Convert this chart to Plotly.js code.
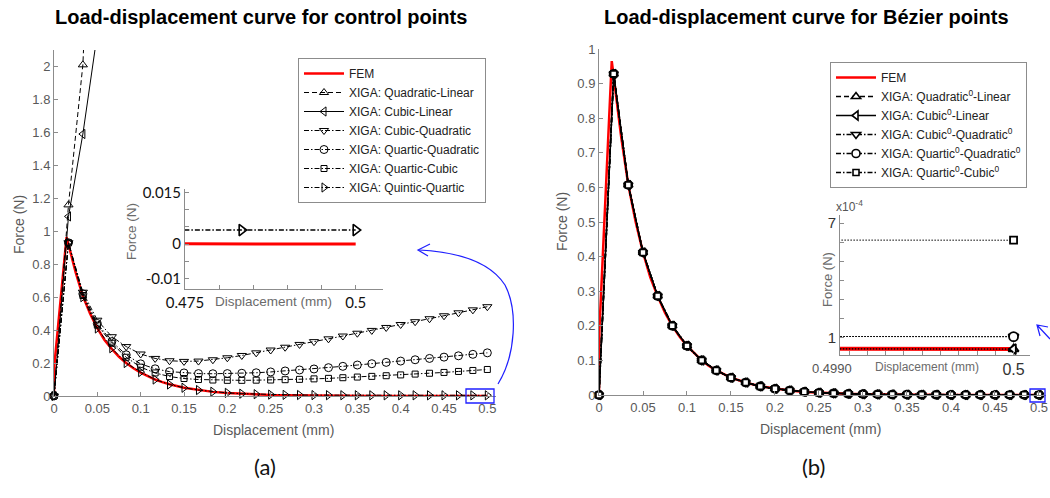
<!DOCTYPE html>
<html><head><meta charset="utf-8">
<script src="https://cdn.plot.ly/plotly-3.0.1.min.js"></script>
<style>html,body{margin:0;padding:0;background:#fff;}#chart{width:1050px;height:498px;}</style>
</head><body><div id="chart"></div><script>
// ---------------- data ----------------
const dispX = [0,0.0167,0.0333,0.05,0.0667,0.0833,0.1,0.1167,0.1333,0.15,0.1667,0.1833,0.2,0.2167,0.2333,0.25,0.2667,0.2833,0.3,0.3167,0.3333,0.35,0.3667,0.3833,0.4,0.4167,0.4333,0.45,0.4667,0.4833,0.5];
const femX = [0,0.0005,0.0145,0.025,0.0333,0.0417,0.05,0.0583,0.0667,0.075,0.0833,0.0917,0.1,0.1083,0.1167,0.125,0.1333,0.15,0.1667,0.1833,0.2,0.2167,0.2333,0.25,0.2667,0.2833,0.3,0.3167,0.3333,0.35,0.3667,0.3833,0.4,0.4167,0.4333,0.45,0.4667,0.4833,0.5];
const femY = [0,0.19,0.965,0.75,0.607,0.50,0.412,0.34,0.285,0.238,0.200,0.168,0.142,0.12,0.100,0.084,0.071,0.050,0.036,0.025,0.018,0.013,0.009,0.0065,0.0046,0.0033,0.0024,0.0017,0.0012,0.0009,0.00065,0.00048,0.00035,0.00026,0.00019,0.00013,0.00009,0.00006,0.00004];

// (a) control points
const quadLinY  = [0,1.16,2.01,4.0];
const cubLinY   = [0,1.09,1.59,2.2];
const cubQuadY  = [0,0.93,0.63,0.46,0.36,0.30,0.255,0.228,0.214,0.210,0.212,0.22,0.232,0.246,0.262,0.279,0.296,0.313,0.33,0.347,0.364,0.381,0.398,0.416,0.434,0.451,0.469,0.487,0.505,0.523,0.542];
const quarQuadY = [0,0.93,0.62,0.44,0.33,0.25,0.195,0.165,0.148,0.14,0.136,0.135,0.136,0.138,0.141,0.146,0.152,0.158,0.164,0.172,0.18,0.188,0.196,0.204,0.212,0.22,0.228,0.236,0.244,0.253,0.262];
const quarCubY  = [0,0.93,0.61,0.43,0.32,0.235,0.175,0.14,0.118,0.106,0.1,0.097,0.095,0.095,0.096,0.097,0.099,0.101,0.104,0.107,0.111,0.115,0.119,0.123,0.128,0.133,0.138,0.143,0.149,0.155,0.161];
const quinQuarY = [0,0.93,0.60,0.41,0.29,0.20,0.145,0.10,0.07,0.05,0.036,0.026,0.019,0.014,0.011,0.0085,0.007,0.006,0.0054,0.005,0.0047,0.0045,0.0044,0.0043,0.0042,0.0042,0.0041,0.0041,0.0041,0.0041,0.0041];

// (b) Bezier points
const bzQuadLinY  = [0,0.928,0.607,0.412,0.286,0.200,0.142,0.100,0.071,0.050,0.036,0.025,0.018,0.013,0.0093,0.0067,0.0048,0.0034,0.0024,0.0017,0.0012,0.0009,0.00065,0.00048,0.00035,0.00026,0.00019,0.00013,0.00009,0.00006,0.00004];
const bzCubLinY   = [0,0.928,0.607,0.412,0.286,0.200,0.142,0.100,0.071,0.050,0.036,0.025,0.018,0.013,0.0093,0.0067,0.0048,0.0034,0.0024,0.0017,0.0012,0.0009,0.00065,0.00048,0.00035,0.00026,0.00019,0.00013,0.00009,0.00006,0.00004];
const bzCubQuadY  = [0,0.928,0.607,0.412,0.286,0.200,0.142,0.100,0.071,0.050,0.036,0.025,0.018,0.013,0.0093,0.0067,0.0048,0.0034,0.0025,0.0018,0.0013,0.00095,0.0007,0.00055,0.00042,0.00033,0.00025,0.00019,0.00015,0.00012,0.000105];
const bzQuarQuadY = [0,0.928,0.607,0.412,0.286,0.200,0.142,0.100,0.071,0.050,0.036,0.025,0.018,0.013,0.0093,0.0067,0.0048,0.0034,0.0025,0.0018,0.0013,0.00095,0.0007,0.00055,0.00042,0.00033,0.00025,0.00019,0.00015,0.00012,0.000105];
const bzQuarCubY  = [0,0.928,0.607,0.412,0.286,0.200,0.142,0.100,0.071,0.050,0.036,0.025,0.018,0.013,0.0093,0.0067,0.0048,0.0034,0.0026,0.002,0.0016,0.0013,0.0011,0.00095,0.00085,0.00077,0.00071,0.00067,0.00064,0.00062,0.00061];

const ctrlNames = ['FEM','XIGA: Quadratic-Linear','XIGA: Cubic-Linear','XIGA: Cubic-Quadratic','XIGA: Quartic-Quadratic','XIGA: Quartic-Cubic','XIGA: Quintic-Quartic'];
const bezNames  = ['FEM','XIGA: Quadratic<sup>0</sup>-Linear','XIGA: Cubic<sup>0</sup>-Linear','XIGA: Cubic<sup>0</sup>-Quadratic<sup>0</sup>','XIGA: Quartic<sup>0</sup>-Quadratic<sup>0</sup>','XIGA: Quartic<sup>0</sup>-Cubic<sup>0</sup>'];

const ctrlY = [femY, quadLinY, cubLinY, cubQuadY, quarQuadY, quarCubY, quinQuarY];
const bezY  = [femY, bzQuadLinY, bzCubLinY, bzCubQuadY, bzQuarQuadY, bzQuarCubY];

// ---------------- styles ----------------
const DASH = '5px,3px';
const DD = '5px,2px,1.5px,2px';
const DOT = '1.5px,1.5px';
const ctrlStyle = [
  {dash:'solid', sym:null},
  {dash:DASH, sym:'triangle-up-open', clip:true},
  {dash:'solid', sym:'triangle-left-open', clip:true},
  {dash:DD, sym:'triangle-down-open'},
  {dash:DD, sym:'circle-open'},
  {dash:DD, sym:'square-open', small:true},
  {dash:DD, sym:'triangle-right-open'}
];
const bezStyle = [
  {dash:'solid', sym:null},
  {dash:DASH, sym:'triangle-up'},
  {dash:'solid', sym:'triangle-left'},
  {dash:DD, sym:'triangle-down'},
  {dash:DD, sym:'circle'},
  {dash:DD, sym:'square', small:true}
];
const FONT = 'Liberation Sans, Arial, sans-serif';
const CAL = 'Lato, Open Sans, sans-serif';

function xOf(i, y){ return i===0 ? femX : dispX.slice(0, y.length); }

function mk(name, x, y, st, o){
  const isFem = st.sym===null;
  const t = {
    type:'scatter', name:name, x:x, y:y,
    xaxis:o.xa, yaxis:o.ya, showlegend:o.leg!==undefined, legend:o.leg,
    mode: isFem ? 'lines' : 'lines+markers',
    cliponaxis: o.inset ? true : !!st.clip,
    line: isFem ? {color:'#ff0000', width:o.redW} : {color:'#000', width:o.lw, dash:(o.dash||st.dash)},
    hoverinfo:'skip'
  };
  if(!isFem) t.marker = {symbol:st.sym, color:o.fill||'#000', size: st.small ? o.ms-2 : o.ms, line:{width:o.mlw, color:'#000'}};
  return t;
}

const traces = [];
ctrlY.forEach((y,i)=>traces.push(mk(ctrlNames[i], xOf(i,y), y, ctrlStyle[i], {xa:'x', ya:'y', leg:'legend', lw:1, ms:8, mlw:1, redW:2.5})));
ctrlY.forEach((y,i)=>traces.push(mk(ctrlNames[i], xOf(i,y), y, ctrlStyle[i], {xa:'x2', ya:'y2', inset:true, lw:1.6, ms:10, mlw:1.6, redW:3})));
bezY.forEach((y,i)=>traces.push(mk(bezNames[i], xOf(i,y), y, bezStyle[i], {xa:'x3', ya:'y3', leg:'legend2', lw:1.5, ms:8, mlw:1.6, redW:2.5, fill:'#fff'})));
bezY.forEach((y,i)=>traces.push(mk(bezNames[i], xOf(i,y), y, bezStyle[i], {xa:'x4', ya:'y4', inset:true, lw:1, ms:9, mlw:1.8, redW:4, fill:'#fff', dash:DOT})));

// ---------------- layout helpers ----------------
const W = 1050, H = 498;
const px = v => v/W, py = v => 1 - v/H;
const AXC = '#8c8c8c';
const baseAx = {showline:true, linecolor:AXC, linewidth:1, ticks:'inside', ticklen:4, tickcolor:AXC,
  showgrid:false, zeroline:false, tickfont:{family:FONT, size:13, color:'#595959'}, fixedrange:true};
const minorTk = (t0, d) => ({tick0:t0, dtick:d, ticks:'inside', ticklen:4, tickcolor:AXC, showgrid:false});

function ann(text, x, y, o){
  return Object.assign({text:text, x:px(x), y:py(y), xref:'paper', yref:'paper', showarrow:false,
    xanchor:'center', yanchor:'middle', font:{family:FONT, size:14, color:'#595959'}}, o||{});
}
function P(x, y){ return px(x)+','+py(y); }

const layout = {
  width:W, height:H, margin:{l:0,r:0,t:0,b:0}, paper_bgcolor:'#fff', plot_bgcolor:'rgba(0,0,0,0)',
  showlegend:true,
  xaxis: Object.assign({}, baseAx, {domain:[px(54),px(496)], range:[0,0.51], anchor:'y', tick0:0, dtick:0.05}),
  yaxis: Object.assign({}, baseAx, {domain:[py(396),py(50)], range:[0,2.1], anchor:'x', tick0:0, dtick:0.2}),
  xaxis2: Object.assign({}, baseAx, {domain:[px(185),px(383)], range:[0.475,0.504], anchor:'y2',
    tickvals:[0.475,0.5], ticktext:['0.475','0.5'], minor:minorTk(0.475,0.005), tickfont:{family:CAL, size:15, color:'#111'}}),
  yaxis2: Object.assign({}, baseAx, {domain:[py(289),py(189)], range:[-0.013,0.016], anchor:'x2',
    tickvals:[-0.01,0,0.015], ticktext:['-0.01','0','0.015'], minor:minorTk(0,0.005), tickfont:{family:CAL, size:15, color:'#111'}}),
  xaxis3: Object.assign({}, baseAx, {domain:[px(599),px(1046)], range:[0,0.508], anchor:'y3', tick0:0, dtick:0.05}),
  yaxis3: Object.assign({}, baseAx, {domain:[py(395),py(49)], range:[0,1], anchor:'x3', tick0:0, dtick:0.1}),
  xaxis4: Object.assign({}, baseAx, {domain:[px(840),px(1030)], range:[0.49905,0.50009], anchor:'y4',
    tickvals:[0.5], ticktext:['0.5'], minor:minorTk(0.499,0.0001),
    tickfont:{family:FONT, size:16, color:'#333'}}),
  yaxis4: Object.assign({}, baseAx, {domain:[py(355),py(215)], range:[0.09e-4,7.42e-4], anchor:'x4',
    tickvals:[1e-4,7e-4], ticktext:['1','7'], minor:minorTk(0,1e-4), tickfont:{family:FONT, size:15, color:'#333'}}),
  legend: {x:px(298), y:py(58), xanchor:'left', yanchor:'top', bgcolor:'#fff', bordercolor:AXC, borderwidth:1,
    font:{family:FONT, size:12, color:'#222'}, itemwidth:40, traceorder:'normal'},
  legend2: {x:px(830), y:py(62), xanchor:'left', yanchor:'top', bgcolor:'#fff', bordercolor:AXC, borderwidth:1,
    font:{family:FONT, size:12, color:'#222'}, itemwidth:40, traceorder:'normal'},
  annotations: [
    ann('<b>Load-displacement curve for control points</b>', 261, 17, {font:{family:FONT, size:20, color:'#000'}}),
    ann('<b>Load-displacement curve for Bézier points</b>', 806, 17, {font:{family:FONT, size:20, color:'#000'}}),
    ann('Force (N)', 19, 225, {textangle:-90}),
    ann('Displacement (mm)', 273, 430),
    ann('Force (N)', 562, 222, {textangle:-90}),
    ann('Displacement (mm)', 820, 429),
    ann('Force (N)', 131, 232, {textangle:-90, font:{family:FONT, size:13.5, color:'#6b6b6b'}}),
    ann('Displacement (mm)', 273, 301, {font:{family:FONT, size:13.5, color:'#6b6b6b'}}),
    ann('Force (N)', 827, 280, {textangle:-90, font:{family:FONT, size:13, color:'#6b6b6b'}}),
    ann('Displacement (mm)', 927, 367, {font:{family:FONT, size:12, color:'#6b6b6b'}}),
    ann('0.4990', 832, 368, {font:{family:FONT, size:13, color:'#555'}}),
    ann('x10<sup>-4</sup>', 849, 206, {font:{family:FONT, size:12, color:'#555'}}),
    ann('(a)', 265, 466, {font:{family:CAL, size:22, color:'#111'}}),
    ann('(b)', 813, 466, {font:{family:CAL, size:22, color:'#111'}})
  ],
  shapes: [
    {type:'rect', xref:'paper', yref:'paper', x0:px(466), x1:px(494), y0:py(403), y1:py(389), line:{color:'#1f1fff', width:1.3}},
    {type:'rect', xref:'paper', yref:'paper', x0:px(1030), x1:px(1045), y0:py(402), y1:py(389), line:{color:'#1f1fff', width:1.3}},
    {type:'path', xref:'paper', yref:'paper', line:{color:'#1f1fff', width:1.2},
      path:'M '+P(498,384)+' C '+P(516,355)+' '+P(518,310)+' '+P(505,285)+' C '+P(490,262)+' '+P(460,252)+' '+P(419,250)},
    {type:'path', xref:'paper', yref:'paper', line:{color:'#1f1fff', width:1.2},
      path:'M '+P(430,244)+' L '+P(418,250)+' L '+P(428,256)},
    {type:'path', xref:'paper', yref:'paper', line:{color:'#1f1fff', width:1.2},
      path:'M '+P(1048,327)+' L '+P(1037,325)+' L '+P(1040,336)+' M '+P(1037,325)+' L '+P(1050,339)}
  ]
};

Plotly.newPlot('chart', traces, layout, {staticPlot:true, displayModeBar:false});
</script></body></html>
